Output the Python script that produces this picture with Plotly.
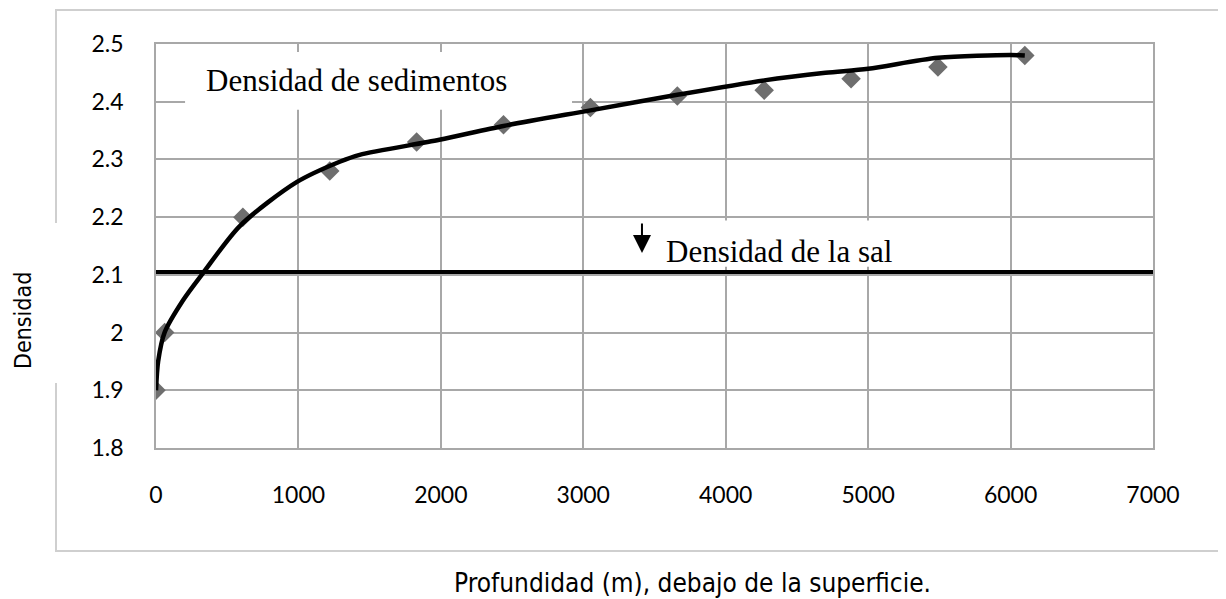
import plotly.graph_objects as go

# Measured points (depth in m, density)
depth = [0, 61, 610, 1220, 1830, 2440, 3050, 3660, 4270, 4880, 5490, 6100]
density = [1.90, 2.00, 2.20, 2.28, 2.33, 2.36, 2.39, 2.41, 2.42, 2.44, 2.46, 2.48]

# Smoothed sediment density curve
curve_x = [0, 15, 60, 190, 330, 590, 990, 1290, 1430, 1990, 2440, 3050, 3660, 4270, 4700, 5000, 5490, 6000, 6100]
curve_y = [1.90, 1.95, 2.00, 2.056, 2.103, 2.185, 2.261, 2.296, 2.308, 2.334, 2.358, 2.385, 2.412, 2.437, 2.450, 2.457, 2.476, 2.481, 2.48]

salt_density = 2.105

x_ticks = [0, 1000, 2000, 3000, 4000, 5000, 6000, 7000]
y_ticks = [1.8, 1.9, 2.0, 2.1, 2.2, 2.3, 2.4, 2.5]
y_tick_text = ["1.8", "1.9", "2", "2.1", "2.2", "2.3", "2.4", "2.5"]

label_sed = "Densidad de sedimentos"
label_sal = "Densidad de la sal"
x_title = "Profundidad (m), debajo de la superficie."
y_title = "Densidad"

# page has an 8px body margin: figure origin sits at screen (8, 8)
OFF = 8
W, H = 1226 - OFF, 599 - OFF
PL, PR, PT, PB = 156, 1153, 44, 448   # plot area in screen pixels
L, R, T, B = PL - OFF, W - (PR - OFF), PT - OFF, H - (PB - OFF)

def px_x(p):
    return (p - PL) / (PR - PL)

def px_y(p):
    return (PB - p) / (PB - PT)

GRID = "#a8a8a8"
BOX = "#cfcfcf"
SANS_N = "DejaVu Sans Condensed, Liberation Sans Narrow, Roboto, sans-serif"

fig = go.Figure()
fig.add_trace(go.Scatter(x=[0, 7000], y=[salt_density, salt_density], mode="lines",
                         line=dict(color="black", width=4), showlegend=False, hoverinfo="skip"))
fig.add_trace(go.Scatter(x=depth, y=density, mode="markers",
                         marker=dict(symbol="diamond", size=15, color="#6e6e6e"),
                         showlegend=False))
fig.add_trace(go.Scatter(x=curve_x, y=curve_y, mode="lines", line_shape="spline",
                         line=dict(color="black", width=4.5, smoothing=0.8), showlegend=False))

shapes = [
    # white backgrounds behind labels (cover gridlines)
    dict(type="rect", xref="x", yref="y", x0=204, x1=2921, y0=2.386, y1=2.486,
         fillcolor="white", line_width=0, layer="between"),
    dict(type="rect", xref="x", yref="y", x0=3117, x1=5505, y0=2.114, y1=2.194,
         fillcolor="white", line_width=0, layer="between"),
    # outer frame
    dict(type="line", xref="paper", yref="paper", x0=px_x(55), x1=px_x(1240), y0=px_y(10), y1=px_y(10),
         line=dict(color=BOX, width=2)),
    dict(type="line", xref="paper", yref="paper", x0=px_x(55), x1=px_x(1240), y0=px_y(551), y1=px_y(551),
         line=dict(color=BOX, width=2)),
    dict(type="line", xref="paper", yref="paper", x0=px_x(56), x1=px_x(56), y0=px_y(10), y1=px_y(223),
         line=dict(color=BOX, width=2)),
    dict(type="line", xref="paper", yref="paper", x0=px_x(56), x1=px_x(56), y0=px_y(383), y1=px_y(551),
         line=dict(color=BOX, width=2)),
]

annotations = [
    dict(text=label_sed, xref="paper", yref="paper", x=px_x(356), y=px_y(81), showarrow=False,
         xanchor="center", yanchor="middle",
         font=dict(family="Liberation Serif", size=31, color="black")),
    dict(text=label_sal, xref="paper", yref="paper", x=px_x(779), y=px_y(251), showarrow=False,
         xanchor="center", yanchor="middle",
         font=dict(family="Liberation Serif", size=31, color="black")),
    dict(text="", xref="x", yref="y", x=3412, y=2.138, ax=0, ay=-31, showarrow=True,
         arrowhead=2, arrowsize=1.8, arrowwidth=2, arrowcolor="black"),
    dict(text=x_title, xref="paper", yref="paper", x=px_x(692), y=px_y(583), showarrow=False,
         xanchor="center", yanchor="middle",
         font=dict(family=SANS_N, size=26, color="black")),
    dict(text=y_title, xref="paper", yref="paper", x=px_x(23), y=px_y(321), showarrow=False,
         xanchor="center", yanchor="middle", textangle=-90,
         font=dict(family=SANS_N, size=23, color="black")),
]

fig.update_layout(
    width=W, height=H,
    margin=dict(l=L, r=R, t=T, b=B),
    plot_bgcolor="white", paper_bgcolor="white",
    shapes=shapes, annotations=annotations,
    xaxis=dict(range=[0, 7000], tickvals=x_ticks, showgrid=True, gridcolor=GRID, gridwidth=1.5,
               showline=True, mirror=True, linecolor=GRID, linewidth=1.5, zeroline=False,
               ticks="", ticklabelstandoff=26,
               tickfont=dict(family="Lato", size=23, color="black")),
    yaxis=dict(range=[1.8, 2.5], tickvals=y_ticks, ticktext=y_tick_text, showgrid=True,
               gridcolor=GRID, gridwidth=1.5, showline=True, mirror=True, linecolor=GRID,
               linewidth=1.5, zeroline=False, ticks="", ticklabelstandoff=26,
               tickfont=dict(family="Lato", size=23, color="black")),
)

fig.write_html("out.html")
